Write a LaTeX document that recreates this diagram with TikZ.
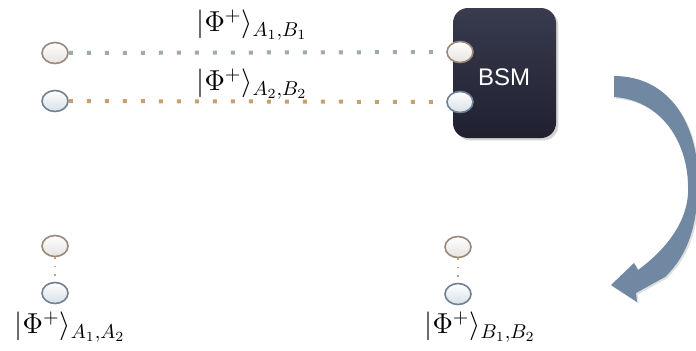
\documentclass[tikz,border=0pt]{standalone}
\usepackage{fontspec}
\newfontfamily\arialfont{Liberation Sans}
\usetikzlibrary{shapes.geometric,shadows}
\definecolor{qAborder}{HTML}{9C8878}
\definecolor{qAfill}{HTML}{E6E3E0}
\definecolor{qBborder}{HTML}{6E8294}
\definecolor{qBfill}{HTML}{D8E0E7}
\definecolor{lineA}{HTML}{9BADA4}
\definecolor{lineB}{HTML}{C8A070}
\definecolor{boxtop}{HTML}{393B4E}
\definecolor{boxbot}{HTML}{1F2131}
\definecolor{arrowcol}{HTML}{7088A2}
\tikzset{
  qA/.style={ellipse, minimum width=13pt, minimum height=10.5pt, inner sep=0pt,
    draw=qAborder, line width=0.8pt, top color=white, bottom color=qAfill},
  qB/.style={ellipse, minimum width=13pt, minimum height=10.5pt, inner sep=0pt,
    draw=qBborder, line width=0.8pt, top color=white, bottom color=qBfill},
  dotA/.style={lineA, line width=2pt, dash pattern=on 2pt off 7pt},
  dotB/.style={lineB, line width=2pt, dash pattern=on 2pt off 7pt},
  dotV/.style={lineB, line width=0.9pt, dash pattern=on 0.9pt off 3.2pt},
  lbl/.style={inner sep=0pt, font=\fontsize{14.5}{17}\selectfont},
}
\begin{document}
\begin{tikzpicture}[x=0.5pt, y=-0.5pt]
\useasboundingbox (0,0) rectangle (696,350);
% BSM box
\node[draw=none, rounded corners=7.5pt, minimum width=51.5pt, minimum height=65pt,
  top color=boxtop, bottom color=boxbot, drop shadow={opacity=0.35, shadow xshift=1.2pt, shadow yshift=-1.2pt}] (bsm) at (504.5,73) {};
\node[text=white, font=\arialfont\fontsize{12}{14}\selectfont, inner sep=0pt] (bsmtext) at (504,77) {BSM};
% qubits
\node[qA] (a1) at (55,53) {};
\node[qB] (a2) at (55,101) {};
\node[qA] (b1) at (460,52) {};
\node[qB] (b2) at (460,102) {};
\node[qA] (c1) at (55,246) {};
\node[qB] (c2) at (55,293) {};
\node[qA] (d1) at (458,247) {};
\node[qB] (d2) at (458,294) {};
% connectors
\draw[dotA] (a1) -- (b1);
\draw[dotB] (a2) -- (b2);
\draw[dotV] (c1) -- (c2);
\draw[dotV] (d1) -- (d2);
% labels
\node[lbl] (l1) at (252,25) {$|\Phi^+\rangle_{A_1,B_1}$};
\node[lbl] (l2) at (252,84) {$|\Phi^+\rangle_{A_2,B_2}$};
\node[lbl] (l3) at (70,327) {$|\Phi^+\rangle_{A_1,A_2}$};
\node[lbl] (l4) at (480,327) {$|\Phi^+\rangle_{B_1,B_2}$};
% curved arrow
\fill[arrowcol, drop shadow={opacity=0.25, shadow xshift=0.8pt, shadow yshift=-0.8pt}]
  (614,76) .. controls (670,76) and (698,125) .. (698,180)
  .. controls (698,225) and (688,255) .. (665,277)
  -- (636,293) -- (637,302) -- (611,285) -- (634,263) -- (638,270)
  .. controls (672,245) and (690,215) .. (688,185)
  .. controls (687,140) and (660,100) .. (614,97) -- cycle;
\end{tikzpicture}
\end{document}
